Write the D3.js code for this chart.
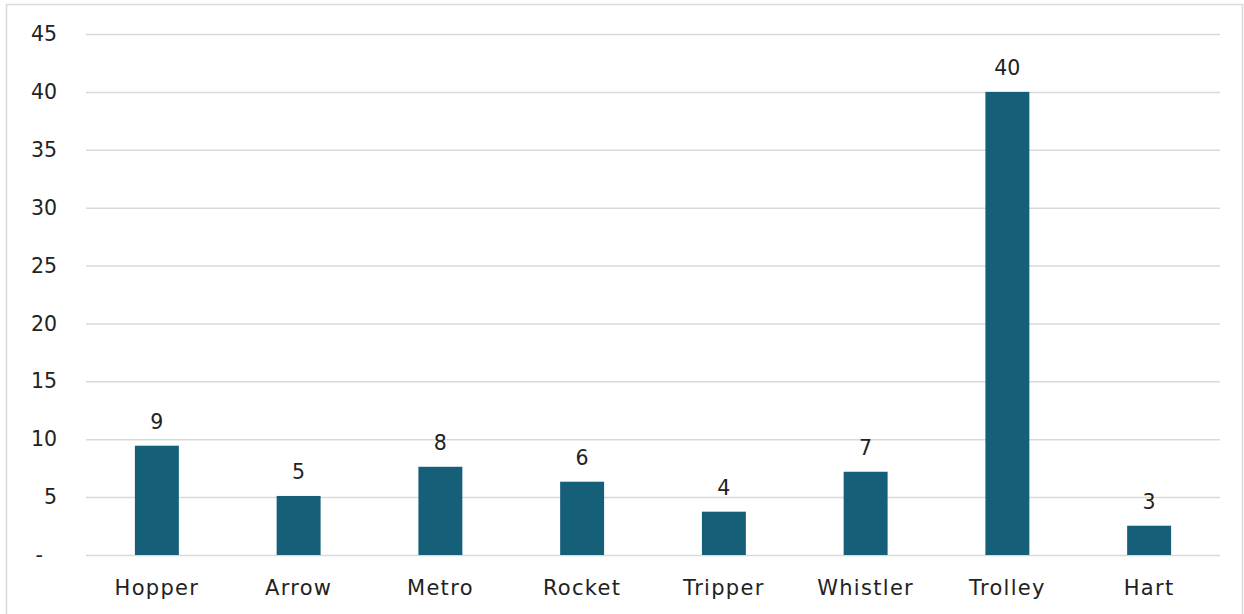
<!DOCTYPE html>
<html>
<head>
<meta charset="utf-8">
<script src="https://cdn.jsdelivr.net/npm/d3@7"></script>
<style>
  html, body { margin: 0; padding: 0; background: #fff; }
  svg { display: block; }
  text { font-family: "Century Gothic", "DejaVu Sans", sans-serif; fill: #222; }
</style>
</head>
<body>
<svg id="chart" width="1244" height="614"></svg>
<script>
// Ridership by route
const categories = ["Hopper", "Arrow", "Metro", "Rocket", "Tripper", "Whistler", "Trolley", "Hart"];
const values = [9.44, 5.1, 7.62, 6.33, 3.74, 7.19, 40, 2.53];
const yTicks = [0, 5, 10, 15, 20, 25, 30, 35, 40, 45];

// Accounting-style number format: zero shows as a dash
const fmt = v => (Math.round(v) === 0 ? "-" : d3.format(",.0f")(v));

const W = 1244, H = 614;
const margin = { top: 34, right: 24, bottom: 59, left: 86 };
const iw = W - margin.left - margin.right;
const ih = H - margin.top - margin.bottom;
const FONT = '"Century Gothic", "DejaVu Sans", sans-serif';

const svg = d3.select("#chart");

// chart area border
svg.append("rect")
  .attr("x", 6.5).attr("y", 4.5)
  .attr("width", W - 8).attr("height", H + 10)
  .attr("fill", "none").attr("stroke", "#d9d9d9").attr("stroke-width", 1.5);

const g = svg.append("g").attr("transform", `translate(${margin.left},${margin.top})`);

const x = d3.scaleBand().domain(categories).range([0, iw]).paddingInner(0.69).paddingOuter(0.345);
const y = d3.scaleLinear().domain([0, 45]).range([ih, 0]);

// horizontal gridlines + y tick labels
const yAxis = d3.axisLeft(y).tickValues(yTicks).tickSize(-iw).tickFormat(fmt).tickPadding(29);
const ya = g.append("g").call(yAxis);
ya.select(".domain").remove();
ya.selectAll(".tick line").attr("stroke", "#d9d9d9").attr("stroke-width", 1.5);
ya.selectAll(".tick text")
  .attr("font-size", 20.5)
  .attr("fill", "#222")
  .style("font-family", FONT)
  .attr("dx", d => (d === 0 ? -14 : 0));

// bars
g.selectAll("rect.bar")
  .data(values)
  .join("rect")
  .attr("class", "bar")
  .attr("x", (d, i) => x(categories[i]))
  .attr("y", d => y(d))
  .attr("width", x.bandwidth())
  .attr("height", d => y(0) - y(d))
  .attr("fill", "#155f79");

// value labels
g.selectAll("text.val")
  .data(values)
  .join("text")
  .attr("class", "val")
  .attr("x", (d, i) => x(categories[i]) + x.bandwidth() / 2)
  .attr("y", d => y(d) - 17)
  .attr("text-anchor", "middle")
  .attr("font-size", 20.5)
  .text(d => fmt(d));

// category axis labels
const xa = g.append("g").attr("transform", `translate(0,${ih})`)
  .call(d3.axisBottom(x).tickSize(0));
xa.select(".domain").remove();
xa.selectAll(".tick text")
  .attr("y", 40)
  .attr("dy", 0)
  .attr("font-size", 21)
  .attr("letter-spacing", 1.3)
  .attr("fill", "#222")
  .style("font-family", FONT);
</script>
</body>
</html>
